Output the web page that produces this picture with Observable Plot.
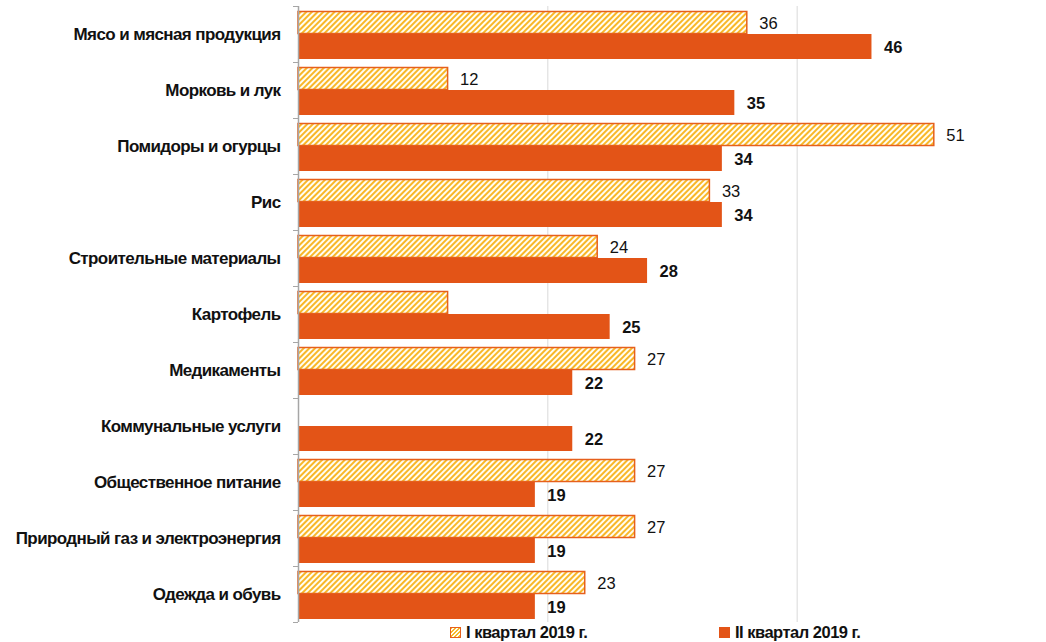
<!DOCTYPE html>
<html>
<head>
<meta charset="utf-8">
<script src="https://cdn.jsdelivr.net/npm/d3@7"></script>
<script src="https://cdn.jsdelivr.net/npm/@observablehq/plot@0.6"></script>
<style>
  body { margin: 0; background: #fff; font-family: "Liberation Sans", Arial, sans-serif; }
  #wrap { position: relative; width: 1046px; height: 642px; }
  .legend { position: absolute; top: 623px; font-weight: bold; font-size: 16.5px; letter-spacing: -0.5px; color: #111; display: flex; align-items: center; white-space: nowrap; }
  .sw { width: 11px; height: 11px; margin-right: 5px; box-sizing: border-box; }
  #chart g[aria-label="y-axis tick label"] text { letter-spacing: -0.6px; }
</style>
</head>
<body>
<svg width="0" height="0" style="position:absolute">
  <defs>
    <pattern id="hatch" patternUnits="userSpaceOnUse" width="4" height="4" patternTransform="rotate(45)">
      <rect width="4" height="4" fill="#fffdf2"></rect>
      <line x1="1" y1="0" x2="1" y2="4" stroke="#f8b728" stroke-width="2"></line>
    </pattern>
  </defs>
</svg>
<div id="wrap">
  <div id="chart"></div>
  <div class="legend" style="left:450px"><div class="sw" style="border:1.5px solid #e6601c; background-image: repeating-linear-gradient(-45deg, #f8b728 0 1.5px, #fffdf2 1.5px 3px);"></div>I квартал 2019 г.</div>
  <div class="legend" style="left:719px"><div class="sw" style="background:#e35417"></div>II квартал 2019 г.</div>
</div>
<script>
const categories = [
  "Мясо и мясная продукция",
  "Морковь и лук",
  "Помидоры и огурцы",
  "Рис",
  "Строительные материалы",
  "Картофель",
  "Медикаменты",
  "Коммунальные услуги",
  "Общественное питание",
  "Природный газ и электроэнергия",
  "Одежда и обувь"
];
const q1Values = [36, 12, 51, 33, 24, 12, 27, null, 27, 27, 23];
const q1Labels = ["36", "12", "51", "33", "24", "", "27", "", "27", "27", "23"];
const q2Values = [46, 35, 34, 34, 28, 25, 22, 22, 19, 19, 19];
const xGrid = [20, 40, 60];

const q1 = categories.map((c, i) => ({cat: c, v: q1Values[i], label: q1Labels[i]})).filter(d => d.v != null);
const q2 = categories.map((c, i) => ({cat: c, v: q2Values[i], label: String(q2Values[i])}));

const chart = Plot.plot({
  width: 1046,
  height: 624,
  marginLeft: 298,
  marginRight: 0,
  marginTop: 6,
  marginBottom: 2,
  style: {fontFamily: "'Liberation Sans', Arial, sans-serif", fontSize: "17px", color: "#111"},
  x: {domain: [0, 60], axis: null},
  y: {domain: categories, padding: 0, axis: null},
  marks: [
    Plot.ruleX(xGrid, {stroke: "#d9d9d9", strokeWidth: 1}),
    Plot.barX(q1, {y: "cat", x: "v", fill: "url(#hatch)", stroke: "#e6601c", strokeWidth: 1.5, insetTop: 5.5, insetBottom: 28.5}),
    Plot.barX(q2, {y: "cat", x: "v", fill: "#e35417", insetTop: 28, insetBottom: 3}),
    Plot.text(q1, {y: "cat", x: "v", text: "label", dx: 12, dy: -11, textAnchor: "start", fill: "#111", fontSize: 16.5}),
    Plot.text(q2, {y: "cat", x: "v", text: "label", dx: 12, dy: 13, textAnchor: "start", fill: "#111", fontWeight: "bold", fontSize: 16.5}),
    Plot.ruleX([0], {stroke: "#a6a6a6", strokeWidth: 1.5}),
    Plot.axisY({tickSize: 0, tickPadding: 18, label: null, fontWeight: "bold", fontSize: 17, fill: "#111"}),
    Plot.axisY({tickSize: 5, text: null, label: null, dy: -28, stroke: "#a6a6a6"}),
    Plot.axisY({ticks: [categories[categories.length - 1]], tickSize: 5, text: null, label: null, dy: 28, stroke: "#a6a6a6"})
  ]
});
document.getElementById("chart").appendChild(chart);
</script>
</body>
</html>
